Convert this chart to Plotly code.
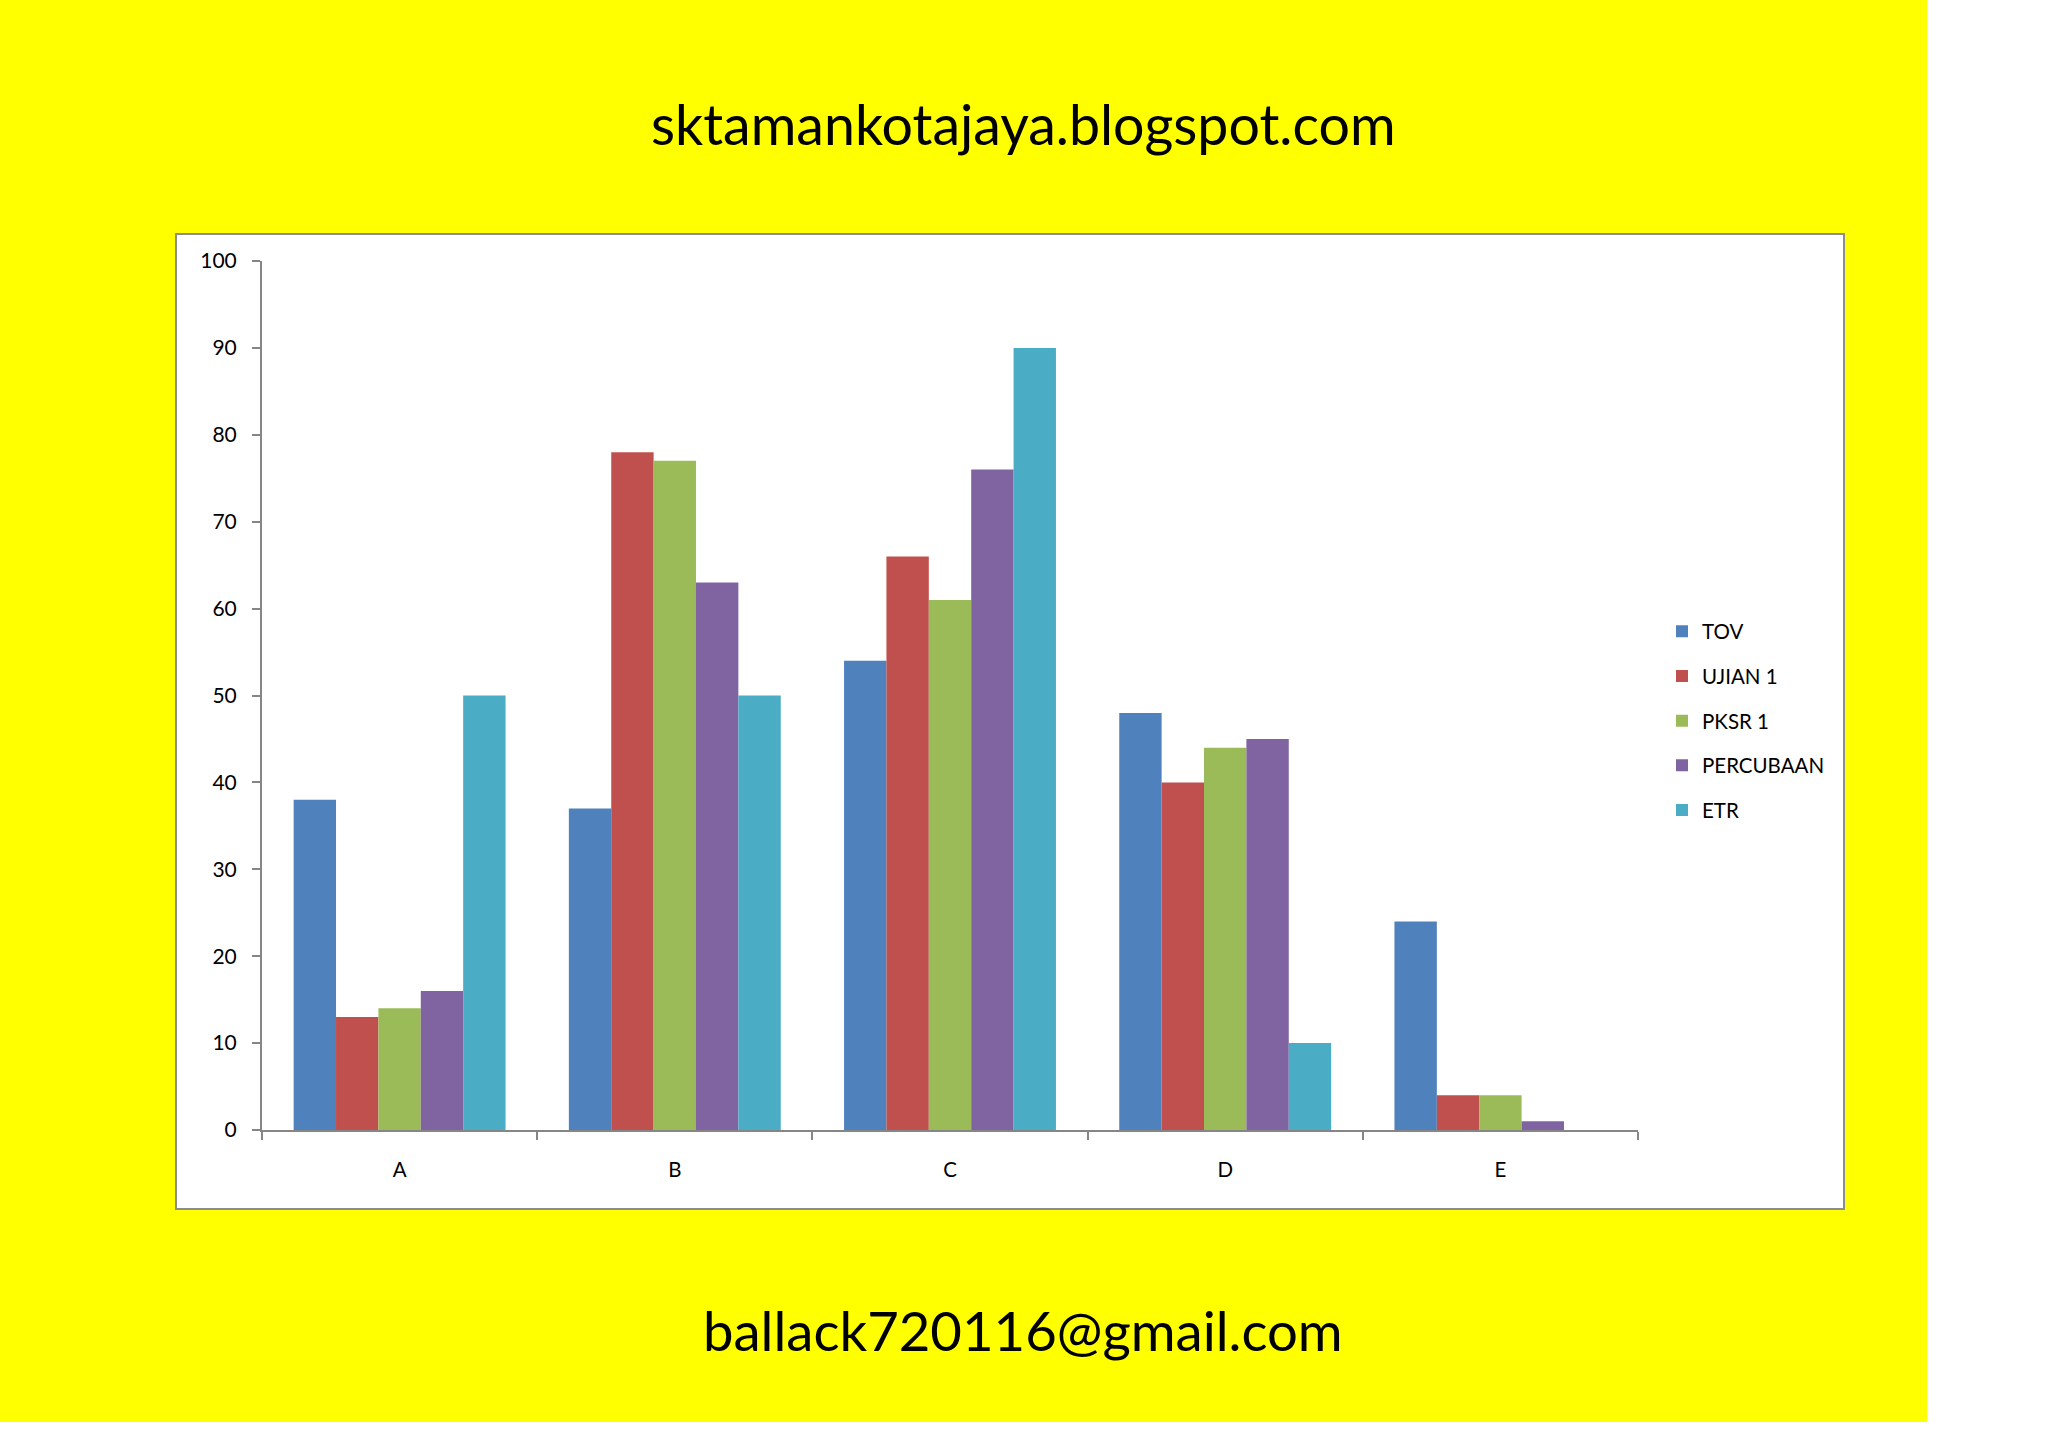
import plotly.graph_objects as go

categories = ["A", "B", "C", "D", "E"]
series_names = ["TOV", "UJIAN 1", "PKSR 1", "PERCUBAAN", "ETR"]
tov = [38, 37, 54, 48, 24]
ujian1 = [13, 78, 66, 40, 4]
pksr1 = [14, 77, 61, 44, 4]
percubaan = [16, 63, 76, 45, 1]
etr = [50, 50, 90, 10, 0]
y_ticks = [0, 10, 20, 30, 40, 50, 60, 70, 80, 90, 100]

colors = ["#4F81BD", "#C0504D", "#9BBB59", "#8064A2", "#4BACC6"]
values = [tov, ujian1, pksr1, percubaan, etr]

W, H = 2048, 1448
L, R, T, B = 262, 1638, 261, 1130  # plot area in pixels
pw, ph = R - L, B - T

def px(x):
    return (x - L) / pw

def py(y):
    return (B - y) / ph

FONT = "Lato"
fig = go.Figure()
for name, vals, c in zip(series_names, values, colors):
    fig.add_trace(go.Bar(x=categories, y=vals, name=name, marker_color=c,
                         marker_line_width=0, legendgroup=name))

axis_col = "#868686"
fig.update_layout(
    width=W, height=H,
    margin=dict(l=L, r=W - R, t=T, b=H - B, pad=0),
    paper_bgcolor="white",
    plot_bgcolor="rgba(0,0,0,0)",
    barmode="group", bargap=0.23, bargroupgap=0,
    font=dict(family=FONT, color="black", size=20),
    showlegend=True,
    legend=dict(x=px(1662), xanchor="left", y=py(721), yanchor="middle",
                font=dict(size=20.5, family=FONT), traceorder="grouped",
                tracegroupgap=15, bgcolor="rgba(0,0,0,0)", itemwidth=30),
    xaxis=dict(showline=True, linecolor=axis_col, linewidth=2, ticks="outside",
               tickson="boundaries", ticklen=8, tickcolor=axis_col, tickwidth=2,
               showgrid=False, tickfont=dict(size=20.5), ticklabelstandoff=20),
    yaxis=dict(range=[0, 100], tickvals=y_ticks, showline=True, linecolor=axis_col,
               linewidth=2, ticks="outside", ticklen=8, tickcolor=axis_col, tickwidth=2,
               showgrid=False, zeroline=False, tickfont=dict(size=21), ticklabelstandoff=11),
    shapes=[
        dict(type="rect", xref="paper", yref="paper", x0=px(-20), x1=px(1927),
             y0=py(1422), y1=py(-20), fillcolor="#FFFF00", line_width=0, layer="below"),
        dict(type="rect", xref="paper", yref="paper", x0=px(176), x1=px(1844),
             y0=py(1209), y1=py(234), fillcolor="white",
             line=dict(color="#8C8C8C", width=2), layer="below"),
    ],
    annotations=[
        dict(text="sktamankotajaya.blogspot.com", xref="paper", yref="paper",
             x=px(1023), y=py(124), showarrow=False, xanchor="center", yanchor="middle",
             font=dict(size=55.5, family=FONT, color="black")),
        dict(text="ballack720116@gmail.com", xref="paper", yref="paper",
             x=px(1023), y=py(1330), showarrow=False, xanchor="center", yanchor="middle",
             font=dict(size=54.5, family=FONT, color="black")),
    ],
)
fig.write_html("out.html", config={"displayModeBar": False},
               post_script="document.body.style.margin='0';document.body.style.overflow='hidden';")
